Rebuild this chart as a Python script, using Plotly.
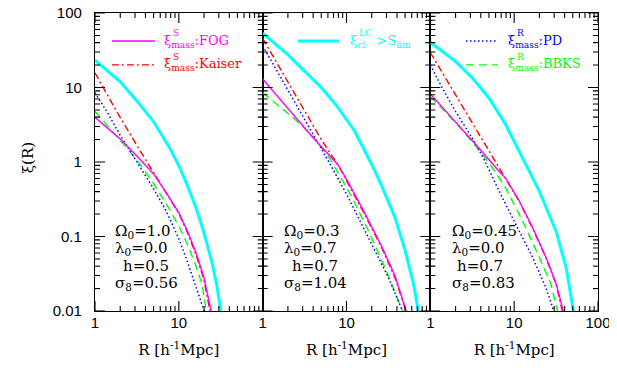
import numpy as np
import plotly.graph_objects as go
from plotly.subplots import make_subplots

# ---------------- data (log10 R, log10 xi) ----------------
# Panel 1: Omega0=1.0
p1_cl_logR   = [0, 0.3, 0.5, 0.7, 0.9, 1.0, 1.1, 1.2, 1.3, 1.4, 1.45, 1.5, 1.52]
p1_cl_logxi  = [1.366, 1.08, 0.82, 0.54, 0.17, -0.05, -0.31, -0.60, -0.95, -1.37, -1.64, -1.97, -2.12]
p1_fog_logR  = [0, 0.3, 0.5, 0.7, 0.85, 1.0, 1.1, 1.2, 1.3, 1.39, 1.40]
p1_fog_logxi = [0.60, 0.31, 0.08, -0.16, -0.41, -0.68, -0.92, -1.2, -1.55, -2.02, -2.08]
p1_kai_logR  = [0, 0.234, 0.5, 0.73, 0.85, 1.0, 1.1, 1.2, 1.3, 1.375, 1.385]
p1_kai_logxi = [1.196, 0.727, 0.22, -0.20, -0.42, -0.69, -0.94, -1.23, -1.58, -2.02, -2.08]
p1_pd_logR   = [0, 0.15, 0.3, 0.5, 0.7, 0.85, 1.0, 1.1, 1.2, 1.31, 1.32]
p1_pd_logxi  = [0.93, 0.66, 0.36, 0.0, -0.36, -0.66, -1.03, -1.33, -1.66, -2.02, -2.06]
p1_bb_logR   = [0, 0.3, 0.5, 0.7, 0.85, 1.0, 1.1, 1.2, 1.28, 1.33, 1.34]
p1_bb_logxi  = [0.68, 0.29, 0.03, -0.29, -0.56, -0.86, -1.1, -1.38, -1.65, -2.02, -2.08]

# Panel 2: Omega0=0.3, lambda0=0.7
p2_cl_logR   = [0, 0.3, 0.7, 0.9, 1.1, 1.3, 1.42, 1.58, 1.7, 1.8, 1.86, 1.87]
p2_cl_logxi  = [1.73, 1.44, 1.0, 0.73, 0.41, -0.03, -0.32, -0.75, -1.19, -1.64, -2.02, -2.1]
p2_fog_logR  = [0, 0.3, 0.6, 0.9, 1.02, 1.22, 1.42, 1.58, 1.725, 1.735]
p2_fog_logxi = [1.115, 0.72, 0.33, -0.04, -0.27, -0.69, -1.13, -1.53, -2.02, -2.08]
p2_kai_logR  = [0, 0.25, 0.5, 0.7, 0.9, 1.02, 1.22, 1.42, 1.58, 1.715, 1.725]
p2_kai_logxi = [1.66, 1.18, 0.69, 0.30, -0.04, -0.29, -0.71, -1.15, -1.56, -2.02, -2.08]
p2_pd_logR   = [0, 0.3, 0.6, 0.8, 1.0, 1.1, 1.3, 1.5, 1.676, 1.686]
p2_pd_logxi  = [1.56, 0.97, 0.39, -0.02, -0.43, -0.65, -1.1, -1.55, -2.02, -2.06]
p2_bb_logR   = [0, 0.37, 0.6, 0.8, 1.06, 1.26, 1.46, 1.68, 1.69]
p2_bb_logxi  = [0.93, 0.59, 0.34, 0.05, -0.46, -0.92, -1.42, -2.02, -2.06]

# Panel 3: Omega0=0.45, lambda0=0.0
p3_cl_logR   = [0, 0.3, 0.5, 0.7, 0.9, 1.1, 1.3, 1.5, 1.62, 1.71, 1.72]
p3_cl_logxi  = [1.607, 1.35, 1.13, 0.86, 0.5, 0.06, -0.39, -0.93, -1.42, -2.02, -2.1]
p3_fog_logR  = [0, 0.3, 0.6, 0.8, 0.9, 1.06, 1.22, 1.38, 1.5, 1.59, 1.60]
p3_fog_logxi = [0.914, 0.54, 0.16, -0.1, -0.22, -0.52, -0.88, -1.28, -1.63, -2.02, -2.08]
p3_kai_logR  = [0, 0.25, 0.5, 0.8, 0.9, 1.06, 1.22, 1.38, 1.5, 1.58, 1.59]
p3_kai_logxi = [1.47, 1.0, 0.53, -0.03, -0.22, -0.53, -0.89, -1.29, -1.64, -2.02, -2.08]
p3_pd_logR   = [0, 0.13, 0.3, 0.5, 0.64, 0.82, 1.02, 1.22, 1.38, 1.48, 1.49]
p3_pd_logxi  = [1.3, 1.02, 0.68, 0.32, 0.04, -0.39, -0.84, -1.28, -1.69, -2.02, -2.06]
p3_bb_logR   = [0, 0.3, 0.5, 0.7, 0.9, 1.1, 1.3, 1.44, 1.52, 1.53]
p3_bb_logxi  = [0.88, 0.53, 0.27, -0.01, -0.35, -0.79, -1.28, -1.64, -2.02, -2.08]

panel_labels = [
    ["Ω<sub>0</sub>=1.0", "λ<sub>0</sub>=0.0", "h=0.5", "σ<sub>8</sub>=0.56"],
    ["Ω<sub>0</sub>=0.3", "λ<sub>0</sub>=0.7", "h=0.7", "σ<sub>8</sub>=1.04"],
    ["Ω<sub>0</sub>=0.45", "λ<sub>0</sub>=0.0", "h=0.7", "σ<sub>8</sub>=0.83"],
]
y_ticks = [0.01, 0.1, 1, 10, 100]
y_ticktext = ["0.01", "0.1", "1", "10", "100"]
x_ticks = [[1, 10], [1, 10], [1, 10, 100]]

# tick-mark positions (axis decoration, data units)
x_major = [1, 10, 100]
x_minor = [2, 3, 4, 5, 6, 7, 8, 9, 20, 30, 40, 50, 60, 70, 80, 90]
y_major = [0.01, 0.1, 1, 10, 100]
y_minor = [m * d for d in [0.01, 0.1, 1, 10] for m in [2, 3, 4, 5, 6, 7, 8, 9]]

CYAN, MAG, RED, BLUE, GREEN = "#00ffff", "#ff00ff", "#ff0000", "#0000ff", "#00ff00"
SERIF = "DejaVu Serif"
SANS = "Liberation Sans"

styles = {
    "cl":  dict(color=CYAN, width=3, dash="solid"),
    "fog": dict(color=MAG, width=1.4, dash="solid"),
    "kai": dict(color=RED, width=1.4, dash="7px,3px,2px,3px"),
    "pd":  dict(color=BLUE, width=1.5, dash="1.5px,2.5px"),
    "bb":  dict(color=GREEN, width=1.4, dash="8px,5px"),
}

panels = [
    {"cl": (p1_cl_logR, p1_cl_logxi), "pd": (p1_pd_logR, p1_pd_logxi), "bb": (p1_bb_logR, p1_bb_logxi),
     "kai": (p1_kai_logR, p1_kai_logxi), "fog": (p1_fog_logR, p1_fog_logxi)},
    {"cl": (p2_cl_logR, p2_cl_logxi), "pd": (p2_pd_logR, p2_pd_logxi), "bb": (p2_bb_logR, p2_bb_logxi),
     "kai": (p2_kai_logR, p2_kai_logxi), "fog": (p2_fog_logR, p2_fog_logxi)},
    {"cl": (p3_cl_logR, p3_cl_logxi), "pd": (p3_pd_logR, p3_pd_logxi), "bb": (p3_bb_logR, p3_bb_logxi),
     "kai": (p3_kai_logR, p3_kai_logxi), "fog": (p3_fog_logR, p3_fog_logxi)},
]

W, H = 617, 368
ML, MR, MT, MB = 87, 27, 5, 65
panel_w = (W - ML - MR) / 3.0
plot_h = H - MT - MB
X_DEC = 2.0   # decades shown on each x axis
Y_DEC = 4.0   # decades shown on the y axis

fig = make_subplots(rows=1, cols=3, shared_yaxes=True, horizontal_spacing=0)

for i, pdict in enumerate(panels):
    for key in ["cl", "bb", "pd", "kai", "fog"]:
        lr, lx = pdict[key]
        fig.add_trace(go.Scatter(x=10 ** np.array(lr), y=10 ** np.array(lx), mode="lines",
                                 line=styles[key], showlegend=False, hoverinfo="skip"),
                      row=1, col=i + 1)

# tick marks (inside, on all four sides) drawn as line segments in axis data units
LMAJ, LMIN = 10.0, 5.0
for i in range(3):
    tx, ty = [], []
    for vals, L in [(x_major, LMAJ), (x_minor, LMIN)]:
        fy = 10 ** (L * Y_DEC / plot_h)
        for v in vals:
            tx += [v, v, None, v, v, None]
            ty += [0.01, 0.01 * fy, None, 100, 100 / fy, None]
    for vals, L in [(y_major, LMAJ), (y_minor, LMIN)]:
        fx = 10 ** (L * X_DEC / panel_w)
        for v in vals:
            tx += [1, fx, None, 100, 100 / fx, None]
            ty += [v, v, None, v, v, None]
    fig.add_trace(go.Scatter(x=tx, y=ty, mode="lines", line=dict(color="black", width=1.1),
                             showlegend=False, hoverinfo="skip", connectgaps=False),
                  row=1, col=i + 1)

for i in range(3):
    fig.update_xaxes(
        type="log", range=[0, 2], tickmode="array", tickvals=x_ticks[i], ticktext=[str(v) for v in x_ticks[i]],
        ticks="", showline=True, linecolor="black", linewidth=1.2, mirror=True,
        showgrid=False, zeroline=False,
        tickfont=dict(family=SANS, size=15, color="black"), ticklabelstandoff=-2,
        title=dict(text="R [h<sup>-1</sup>Mpc]", font=dict(family=SERIF, size=15, color="black"), standoff=14),
        row=1, col=i + 1)
    fig.update_yaxes(
        type="log", range=[-2, 2], tickmode="array", tickvals=y_ticks, ticktext=y_ticktext,
        ticks="", showline=True, linecolor="black", linewidth=1.2, mirror=True,
        showgrid=False, zeroline=False, ticklabeloverflow="allow",
        tickfont=dict(family=SANS, size=15, color="black"), ticklabelstandoff=9,
        row=1, col=i + 1)

annotations = []
shapes = []
# parameter text blocks
x_left = [0.107, 0.115, 0.116]
x_h = [0.155, 0.163, 0.145]
y_lines = [0.268, 0.211, 0.151, 0.091]
for i in range(3):
    xr = "x domain" if i == 0 else f"x{i+1} domain"
    yr = "y domain" if i == 0 else f"y{i+1} domain"
    for j, t in enumerate(panel_labels[i]):
        annotations.append(dict(text=t, xref=xr, yref=yr, x=(x_h[i] if j == 2 else x_left[i]), y=y_lines[j],
                                xanchor="left", yanchor="middle", showarrow=False,
                                font=dict(family=SERIF, size=15, color="black")))

# legend entries: (panel, y, x0, x1, xtext, style key, base text, superscript)
legend_items = [
    (0, 0.906, 0.101, 0.358, 0.40, "fog", "ξ<sub>mass</sub>:FOG", "S"),
    (0, 0.826, 0.101, 0.358, 0.40, "kai", "ξ<sub>mass</sub>:Kaiser", "S"),
    (1, 0.906, 0.21, 0.455, 0.509, "cl", "ξ<sub>cl·</sub>&nbsp;&nbsp;>S<sub>lim</sub>", "LC"),
    (2, 0.906, 0.213, 0.404, 0.451, "pd", "ξ<sub>mass</sub>:PD", "R"),
    (2, 0.826, 0.213, 0.404, 0.451, "bb", "ξ<sub>mass</sub>:BBKS", "R"),
]
for (p, y, x0, x1, xt, key, txt, sup) in legend_items:
    xr = "x domain" if p == 0 else f"x{p+1} domain"
    yr = "y domain" if p == 0 else f"y{p+1} domain"
    st = styles[key]
    shapes.append(dict(type="line", xref=xr, yref=yr, x0=x0, x1=x1, y0=y, y1=y,
                       line=dict(color=st["color"], width=st["width"], dash=st["dash"])))
    annotations.append(dict(text=txt, xref=xr, yref=yr, x=xt, y=y, xanchor="left", yanchor="middle",
                            showarrow=False, font=dict(family=SERIF, size=13, color=st["color"])))
    annotations.append(dict(text=sup, xref=xr, yref=yr, x=xt, y=y, xanchor="left", yanchor="bottom",
                            xshift=9, yshift=1, showarrow=False,
                            font=dict(family=SERIF, size=9, color=st["color"])))

# y axis title
annotations.append(dict(text="ξ(R)", xref="paper", yref="paper", x=-0.133, y=0.513, textangle=-90,
                        xanchor="center", yanchor="middle", showarrow=False,
                        font=dict(family=SERIF, size=15, color="black")))

fig.update_layout(
    width=W, height=H,
    margin=dict(l=ML, r=MR, t=MT, b=MB, autoexpand=False),
    plot_bgcolor="white", paper_bgcolor="white",
    annotations=annotations, shapes=shapes, showlegend=False,
)

fig.write_html("out.html")
